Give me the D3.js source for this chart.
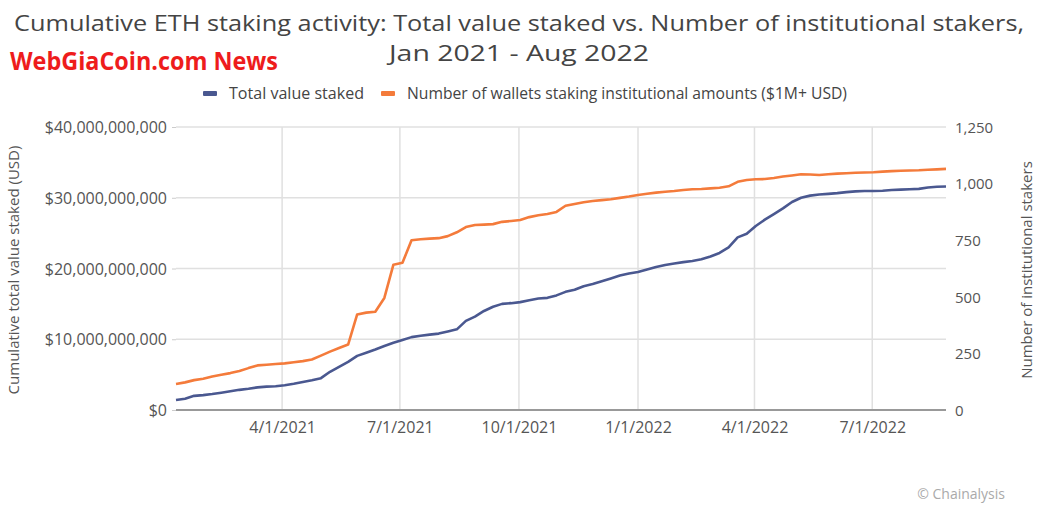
<!DOCTYPE html>
<html><head><meta charset="utf-8">
<script src="https://cdn.jsdelivr.net/npm/d3@7"></script>
<style>body{margin:0;background:#fff}svg{display:block}text{font-family:"Open Sans",Lato,sans-serif}</style>
</head><body>
<svg id="c" width="1045" height="516"></svg>
<script>
const dates = ["2021-01-09","2021-01-16","2021-01-23","2021-01-30","2021-02-06","2021-02-13","2021-02-20","2021-02-27","2021-03-06","2021-03-13","2021-03-20","2021-03-27","2021-04-03","2021-04-10","2021-04-17","2021-04-24","2021-05-01","2021-05-08","2021-05-15","2021-05-22","2021-05-29","2021-06-05","2021-06-12","2021-06-19","2021-06-26","2021-07-03","2021-07-10","2021-07-17","2021-07-24","2021-07-31","2021-08-07","2021-08-14","2021-08-21","2021-08-28","2021-09-04","2021-09-11","2021-09-18","2021-09-25","2021-10-02","2021-10-09","2021-10-16","2021-10-23","2021-10-30","2021-11-06","2021-11-13","2021-11-20","2021-11-27","2021-12-04","2021-12-11","2021-12-18","2021-12-25","2022-01-01","2022-01-08","2022-01-15","2022-01-22","2022-01-29","2022-02-05","2022-02-12","2022-02-19","2022-02-26","2022-03-05","2022-03-12","2022-03-19","2022-03-26","2022-04-02","2022-04-09","2022-04-16","2022-04-23","2022-04-30","2022-05-07","2022-05-14","2022-05-21","2022-05-28","2022-06-04","2022-06-11","2022-06-18","2022-06-25","2022-07-02","2022-07-09","2022-07-16","2022-07-23","2022-07-30","2022-08-06","2022-08-13","2022-08-20","2022-08-27"];
// Total value staked, billions USD
const totalStakedB = [1.41,1.6,2.0,2.1,2.25,2.45,2.65,2.85,3.0,3.2,
 3.3,3.35,3.5,3.7,3.95,4.2,4.5,5.4,6.1,6.8,
 7.65,8.1,8.55,9.05,9.5,9.9,10.3,10.5,10.65,10.8,
 11.1,11.4,12.6,13.2,14.0,14.6,15.0,15.1,15.25,15.5,
 15.75,15.85,16.2,16.7,17.0,17.5,17.8,18.2,18.6,19.0,
 19.3,19.5,19.85,20.2,20.5,20.7,20.9,21.05,21.3,21.7,
 22.2,23.0,24.4,24.9,26.0,26.9,27.7,28.5,29.4,30.0,
 30.3,30.45,30.55,30.65,30.8,30.9,30.95,30.95,31.0,31.1,
 31.15,31.2,31.25,31.45,31.55,31.6];
// Number of wallets staking institutional amounts
const institutionalWallets = [115,122,132,138,148,156,163,172,185,197,
 200,203,206,211,216,223,240,258,274,289,
 422,430,434,495,642,650,750,754,757,759,
 768,785,808,817,819,821,831,835,839,852,
 860,866,875,902,910,918,923,927,931,937,
 943,950,955,960,964,967,972,975,976,979,
 982,988,1008,1016,1019,1020,1025,1031,1036,1041,
 1040,1038,1041,1044,1046,1048,1049,1050,1053,1055,
 1057,1058,1059,1061,1063,1065];
const leftTicks = [0,10e9,20e9,30e9,40e9];
const rightTicks = [0,250,500,750,1000,1250];
const xTickDates = ["2021-04-01","2021-07-01","2021-10-01","2022-01-01","2022-04-01","2022-07-01"];
const titleLines = ["Cumulative ETH staking activity: Total value staked vs. Number of institutional stakers,","Jan 2021 - Aug 2022"];
const seriesNames = ["Total value staked","Number of wallets staking institutional amounts ($1M+ USD)"];

const parse = d3.utcParse("%Y-%m-%d");
const svg = d3.select("#c");
const L=176, R=946, T=127, B=410;
const blue="#4a5890", orange="#f47b3b";

const x = d3.scaleUtc().domain([parse(dates[0]), parse(dates[dates.length-1])]).range([L,R]);
const yL = d3.scaleLinear().domain([0,40e9]).range([B,T]);
const yR = d3.scaleLinear().domain([0,1250]).range([B,T]);

// title
svg.append("text").attr("x",519).attr("y",31).attr("text-anchor","middle").attr("font-size",22).attr("fill","#444")
  .attr("textLength",1010).attr("lengthAdjust","spacingAndGlyphs").text(titleLines[0]);
svg.append("text").attr("x",519).attr("y",61).attr("text-anchor","middle").attr("font-size",22).attr("fill","#444")
  .attr("textLength",260).attr("lengthAdjust","spacingAndGlyphs").text(titleLines[1]);
// watermark
svg.append("text").attr("x",10).attr("y",70).attr("font-size",25).attr("font-weight","bold")
  .attr("font-family","'Liberation Sans Narrow','Liberation Sans',Arial,sans-serif").attr("fill","#ee1c1c")
  .attr("textLength",268).attr("lengthAdjust","spacingAndGlyphs").text("WebGiaCoin.com News");

// legend
const lg = svg.append("g");
lg.append("rect").attr("x",203).attr("y",91).attr("width",14).attr("height",5).attr("rx",1).attr("fill",blue);
lg.append("text").attr("x",229).attr("y",99).attr("font-size",15.7).attr("fill","#444")
  .attr("textLength",135).attr("lengthAdjust","spacingAndGlyphs").text(seriesNames[0]);
lg.append("rect").attr("x",381).attr("y",91).attr("width",14).attr("height",5).attr("rx",1).attr("fill",orange);
lg.append("text").attr("x",407).attr("y",99).attr("font-size",15.7).attr("fill","#444")
  .attr("textLength",440).attr("lengthAdjust","spacingAndGlyphs").text(seriesNames[1]);

// gridlines
svg.append("g").selectAll("line").data(leftTicks.slice(1)).join("line")
  .attr("x1",L).attr("x2",R).attr("y1",d=>yL(d)).attr("y2",d=>yL(d)).attr("stroke","#e0e0e0").attr("stroke-width",1.5);
svg.append("g").selectAll("line").data(xTickDates).join("line")
  .attr("x1",d=>x(parse(d))).attr("x2",d=>x(parse(d))).attr("y1",T).attr("y2",B).attr("stroke","#e0e0e0").attr("stroke-width",1.5);

// left axis
const gl = svg.append("g").attr("transform",`translate(${L},0)`)
  .call(d3.axisLeft(yL).tickValues(leftTicks).tickSize(4).tickPadding(5).tickFormat(d=>"$"+d3.format(",")(d)));
gl.select(".domain").remove();
gl.selectAll(".tick line").attr("stroke","#ccc");
gl.selectAll("text").attr("font-size",16).attr("fill","#555").attr("font-family","'Open Sans',sans-serif").attr("dy","0.35em");

// right axis
const gr = svg.append("g").attr("transform",`translate(${R},0)`)
  .call(d3.axisRight(yR).tickValues(rightTicks).tickSize(0).tickPadding(9).tickFormat(d3.format(",")));
gr.select(".domain").remove();
gr.selectAll("text").attr("font-size",15).attr("fill","#555").attr("font-family","'Open Sans',sans-serif").attr("dy","0.35em");

// x axis
const gx = svg.append("g").attr("transform",`translate(0,${B})`)
  .call(d3.axisBottom(x).tickValues(xTickDates.map(parse)).tickSize(0).tickPadding(12).tickFormat(d3.utcFormat("%-m/%-d/%Y")));
gx.select(".domain").remove();
gx.selectAll("text").attr("font-size",16).attr("fill","#555").attr("font-family","'Open Sans',sans-serif");
svg.append("line").attr("x1",L).attr("x2",R).attr("y1",B).attr("y2",B).attr("stroke","#999").attr("stroke-width",2);

// axis titles
svg.append("text").attr("transform","translate(19,270) rotate(-90)").attr("text-anchor","middle").attr("font-size",15).attr("fill","#555")
  .text("Cumulative total value staked (USD)");
svg.append("text").attr("transform","translate(1032,270) rotate(-90)").attr("text-anchor","middle").attr("font-size",15).attr("fill","#555")
  .text("Number of institutional stakers");

// lines
const lineL = d3.line().x((d,i)=>x(parse(dates[i]))).y(d=>yL(d*1e9));
const lineR = d3.line().x((d,i)=>x(parse(dates[i]))).y(d=>yR(d));
svg.append("path").attr("d",lineR(institutionalWallets)).attr("fill","none").attr("stroke",orange).attr("stroke-width",2.6).attr("stroke-linejoin","round");
svg.append("path").attr("d",lineL(totalStakedB)).attr("fill","none").attr("stroke",blue).attr("stroke-width",2.6).attr("stroke-linejoin","round");

// footer
svg.append("text").attr("x",1005).attr("y",499).attr("text-anchor","end").attr("font-size",14).attr("fill","#aaa").text("© Chainalysis");
</script>
</body></html>
